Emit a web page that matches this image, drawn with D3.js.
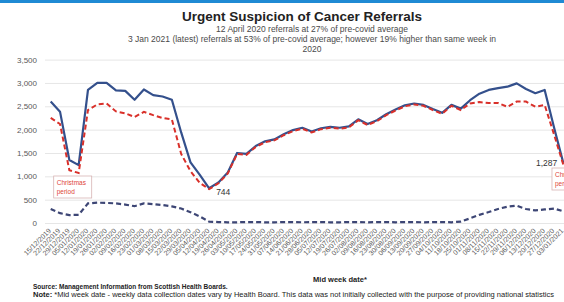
<!DOCTYPE html>
<html>
<head>
<meta charset="utf-8">
<script src="https://cdn.jsdelivr.net/npm/d3@7/dist/d3.min.js"></script>
<style>
  body { margin: 0; background: #fff; }
  svg { display: block; font-family: "Liberation Sans", Arial, sans-serif; }
</style>
</head>
<body>
<svg id="chart" width="564" height="302"></svg>
<script>
// week ending dates, 15 Dec 2019 - 3 Jan 2021
const weekDates = [
  '15/12/2019','22/12/2019','29/12/2019','05/01/2020','12/01/2020','19/01/2020','26/01/2020',
  '02/02/2020','09/02/2020','16/02/2020','23/02/2020','01/03/2020','08/03/2020','15/03/2020',
  '22/03/2020','29/03/2020','05/04/2020','12/04/2020','19/04/2020','26/04/2020','03/05/2020',
  '10/05/2020','17/05/2020','24/05/2020','31/05/2020','07/06/2020','14/06/2020','21/06/2020',
  '28/06/2020','05/07/2020','12/07/2020','19/07/2020','26/07/2020','02/08/2020','09/08/2020',
  '16/08/2020','23/08/2020','30/08/2020','06/09/2020','13/09/2020','20/09/2020','27/09/2020',
  '04/10/2020','11/10/2020','18/10/2020','25/10/2020','01/11/2020','08/11/2020','15/11/2020',
  '22/11/2020','29/11/2020','06/12/2020','13/12/2020','20/12/2020','27/12/2020','03/01/2021'
];

// solid blue line
const totalReferrals = [
  2600, 2385, 1350, 1240, 2850, 3000, 3000, 2840, 2830, 2640, 2860, 2740, 2710, 2640,
  1940, 1300, 1030, 744, 870, 1080, 1500, 1480, 1650, 1750, 1790, 1900, 1990, 2040,
  1960, 2030, 2060, 2040, 2070, 2220, 2120, 2200, 2330, 2430, 2520, 2560, 2530, 2440,
  2360, 2530, 2450, 2630, 2770, 2850, 2890, 2920, 2990, 2870, 2780, 2850, 2050, 1287
];

// red dashed line
const redDashed = [
  2250, 2120, 1130, 1070, 2420, 2540, 2560, 2390, 2350, 2270, 2380, 2310, 2250, 2220,
  1480, 1110, 860, 725, 850, 1060, 1480, 1460, 1630, 1730, 1770, 1880, 1970, 2020,
  1940, 2010, 2040, 2020, 2050, 2200, 2100, 2180, 2310, 2410, 2500, 2540, 2510, 2420,
  2340, 2510, 2420, 2560, 2590, 2570, 2570, 2490, 2600, 2600, 2490, 2530, 1900, 1250
];

// dark dashed line near the bottom
const navyDashed = [
  300, 210, 170, 175, 420, 435, 430, 420, 395, 360, 420, 405, 385, 355,
  310, 230, 140, 30, 20, 15, 15, 20, 20, 15, 15, 20, 20, 15,
  20, 20, 15, 15, 20, 20, 15, 20, 20, 15, 20, 20, 15, 20,
  20, 15, 30, 100, 175, 235, 300, 350, 370, 300, 270, 290, 310, 250
];

const yTicks = [0, 500, 1000, 1500, 2000, 2500, 3000, 3500];

const svg = d3.select('#chart');

let x = d3.scalePoint().domain(weekDates).range([50.7, 563.3]);
let y = d3.scaleLinear().domain([0, 3500]).range([223, 59.6]);

// top bar
svg.append('rect').attr('x', 0).attr('y', 0).attr('width', 564).attr('height', 3).attr('fill', '#1f8ad4');

// titles
svg.append('text').attr('x', 302).attr('y', 21).attr('text-anchor', 'middle')
  .style('font-size', '13.5px').style('font-weight', 'bold').attr('fill', '#222')
  .text('Urgent Suspicion of Cancer Referrals');

const subLines = [
  '12 April 2020 referrals at 27% of pre-covid average',
  '3 Jan 2021 (latest) referrals at 53% of pre-covid average; however 19% higher than same week in',
  '2020'
];
svg.selectAll('.sub').data(subLines).enter().append('text')
  .attr('class', 'sub')
  .attr('x', 312).attr('y', (d, i) => 32 + i * 10)
  .attr('text-anchor', 'middle')
  .style('font-size', '8.5px').attr('fill', '#4a4a4a')
  .text(d => d);

// gridlines + y labels
let yAxis = svg.append('g')
  .attr('transform', 'translate(45,0)')
  .call(d3.axisLeft(y).tickValues(yTicks).tickSize(-519).tickFormat(d3.format(',')));
yAxis.select('.domain').remove();
yAxis.selectAll('line').attr('stroke', '#e6e6e6');
yAxis.selectAll('text').attr('x', -8).attr('fill', '#595959').style('font-size', '8px');

// x axis labels
let xAxis = svg.append('g')
  .attr('transform', 'translate(0,228)')
  .call(d3.axisBottom(x).tickSize(0));
xAxis.select('.domain').remove();
xAxis.selectAll('text')
  .attr('fill', '#595959').style('font-size', '7px')
  .attr('text-anchor', 'end')
  .attr('dx', 0).attr('dy', '0.35em')
  .attr('transform', 'rotate(-45)')
  .attr('x', -2).attr('y', 0);

// lines
const lineOf = vals => d3.line()
  .x((d, i) => x(weekDates[i]))
  .y(d => y(d))(vals);

svg.append('path').attr('d', lineOf(totalReferrals))
  .attr('fill', 'none').attr('stroke', '#34508c').attr('stroke-width', 2.2)
  .attr('stroke-linejoin', 'round');
svg.append('path').attr('d', lineOf(redDashed))
  .attr('fill', 'none').attr('stroke', '#d9302a').attr('stroke-width', 2)
  .attr('stroke-dasharray', '5,3');
svg.append('path').attr('d', lineOf(navyDashed))
  .attr('fill', 'none').attr('stroke', '#3d4675').attr('stroke-width', 2.2)
  .attr('stroke-dasharray', '5,3');

// value labels
const minIdx = 17, lastIdx = totalReferrals.length - 1;
svg.append('text').attr('x', x(weekDates[minIdx]) + 7).attr('y', y(totalReferrals[minIdx]) + 7)
  .style('font-size', '8.5px').attr('fill', '#333').text(d3.format(',')(totalReferrals[minIdx]));
svg.append('text').attr('x', x(weekDates[lastIdx]) - 6).attr('y', y(totalReferrals[lastIdx]) + 3)
  .attr('text-anchor', 'end')
  .style('font-size', '8.5px').attr('fill', '#333').text(d3.format(',')(totalReferrals[lastIdx]));

// christmas boxes (right one runs off the edge, as in the source image)
const xmasBoxes = [
  { idx: 0, dx: 3, top: 176 },
  { idx: 54, dx: -2, top: 168 }
];
xmasBoxes.forEach(b => {
  let g = svg.append('g').attr('transform', 'translate(' + (x(weekDates[b.idx]) + b.dx) + ',' + b.top + ')');
  g.append('rect').attr('width', 38).attr('height', 22)
    .attr('fill', '#fff').attr('stroke', '#d8b4b4').attr('stroke-width', 0.8);
  g.append('text').attr('x', 3).attr('y', 9).style('font-size', '6.5px').attr('fill', '#e0453a').text('Christmas');
  g.append('text').attr('x', 3).attr('y', 18).style('font-size', '6.5px').attr('fill', '#e0453a').text('period');
});

// x axis title
svg.append('text').attr('x', 340).attr('y', 282).attr('text-anchor', 'middle')
  .style('font-size', '7.5px').style('font-weight', 'bold').attr('fill', '#222')
  .text('Mid week date*');

// footer
svg.append('text').attr('x', 33).attr('y', 289)
  .style('font-size', '6.5px').style('font-weight', 'bold').attr('fill', '#222')
  .text('Source: Management Information from Scottish Health Boards.');
let note = svg.append('text').attr('x', 33).attr('y', 297)
  .style('font-size', '7.5px').attr('fill', '#222');
note.append('tspan').style('font-weight', 'bold').text('Note: ');
note.append('tspan').text('*Mid week date - weekly data collection dates vary by Health Board. This data was not initially collected with the purpose of providing national statistics');
</script>
</body>
</html>
